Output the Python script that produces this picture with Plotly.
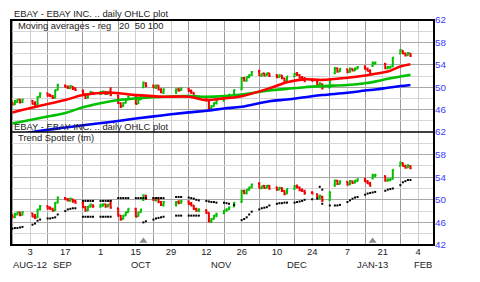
import plotly.graph_objects as go

# ---------------- data ----------------
dates = [
    "2012-08-27", "2012-08-28", "2012-08-29", "2012-08-30", "2012-08-31",
    "2012-09-04", "2012-09-05", "2012-09-06", "2012-09-07",
    "2012-09-10", "2012-09-11", "2012-09-12", "2012-09-13", "2012-09-14",
    "2012-09-17", "2012-09-18", "2012-09-19", "2012-09-20", "2012-09-21",
    "2012-09-24", "2012-09-25", "2012-09-26", "2012-09-27", "2012-09-28",
    "2012-10-01", "2012-10-02", "2012-10-03", "2012-10-04", "2012-10-05",
    "2012-10-08", "2012-10-09", "2012-10-10", "2012-10-11", "2012-10-12",
    "2012-10-15", "2012-10-16", "2012-10-17", "2012-10-18", "2012-10-19",
    "2012-10-22", "2012-10-23", "2012-10-24", "2012-10-25", "2012-10-26",
    "2012-10-31", "2012-11-01", "2012-11-02",
    "2012-11-05", "2012-11-06", "2012-11-07", "2012-11-08", "2012-11-09",
    "2012-11-12", "2012-11-13", "2012-11-14", "2012-11-15", "2012-11-16",
    "2012-11-19", "2012-11-20", "2012-11-21", "2012-11-23",
    "2012-11-26", "2012-11-27", "2012-11-28", "2012-11-29", "2012-11-30",
    "2012-12-03", "2012-12-04", "2012-12-05", "2012-12-06", "2012-12-07",
    "2012-12-10", "2012-12-11", "2012-12-12", "2012-12-13", "2012-12-14",
    "2012-12-17", "2012-12-18", "2012-12-19", "2012-12-20", "2012-12-21",
    "2012-12-24", "2012-12-26", "2012-12-27", "2012-12-28",
    "2012-12-31", "2013-01-02", "2013-01-03", "2013-01-04",
    "2013-01-07", "2013-01-08", "2013-01-09", "2013-01-10", "2013-01-11",
    "2013-01-14", "2013-01-15", "2013-01-16", "2013-01-17", "2013-01-18",
    "2013-01-22", "2013-01-23", "2013-01-24", "2013-01-25",
    "2013-01-28", "2013-01-29", "2013-01-30", "2013-01-31", "2013-02-01",
]

open_ = [
    47.3, 46.9, 47.4, 47.8, 47.3,
    47.6, 47.0, 46.9, 48.3,
    48.9, 48.7, 48.4, 48.1, 49.5,
    50.3, 50.1, 49.8, 50.1, 49.8,
    49.4, 48.7, 48.1, 48.8, 49.0,
    48.8, 48.9, 49.2, 48.8, 49.3,
    48.5, 47.2, 46.6, 47.2, 47.8,
    48.4, 47.1, 47.8, 50.0, 50.7,
    50.3, 49.9, 50.3, 49.6, 49.0,
    49.3, 49.6, 49.5,
    49.7, 49.3, 49.0, 48.4, 48.1,
    48.2, 47.7, 46.3, 46.6, 47.2,
    47.6, 48.1, 48.3, 48.8,
    49.6, 51.6, 51.1, 51.8, 52.2,
    52.9, 52.0, 52.5, 52.1, 52.5,
    52.2, 51.8, 52.1, 51.6, 51.1,
    51.9, 52.4, 52.2, 51.7, 51.5,
    51.3, 51.0, 50.4, 50.5,
    49.9, 52.5, 53.4, 52.8,
    53.2, 52.7, 53.3, 53.0, 53.3,
    53.6, 53.3, 52.9, 53.8, 54.3,
    54.2, 53.4, 53.5, 53.7,
    56.0, 56.5, 56.0, 55.7, 56.0,
]
high = [
    47.4, 47.7, 47.9, 47.9, 48.0,
    47.7, 47.5, 48.4, 49.1,
    49.0, 48.8, 48.6, 49.6, 50.6,
    50.5, 50.3, 50.4, 50.2, 50.0,
    49.6, 48.9, 48.9, 49.3, 49.2,
    49.3, 49.4, 49.3, 49.3, 50.0,
    48.6, 47.3, 47.3, 47.9, 48.5,
    48.6, 47.9, 48.4, 51.0, 50.9,
    50.5, 50.5, 50.4, 49.8, 49.8,
    49.8, 49.9, 50.0,
    49.9, 49.6, 49.1, 48.6, 48.5,
    48.3, 47.8, 46.8, 47.3, 47.7,
    48.2, 48.5, 48.8, 49.6,
    51.8, 51.8, 51.9, 52.3, 52.9,
    53.1, 52.5, 52.6, 52.6, 52.6,
    52.3, 52.3, 52.2, 51.7, 52.0,
    52.6, 52.7, 52.3, 52.0, 51.8,
    51.5, 51.1, 50.9, 50.7,
    51.5, 53.6, 53.5, 53.4,
    53.3, 53.5, 53.4, 53.5, 53.8,
    53.9, 53.5, 53.2, 54.6, 54.6,
    54.3, 53.8, 53.8, 55.4,
    56.8, 56.6, 56.2, 56.3, 56.1,
]
low = [
    46.8, 46.8, 47.2, 47.1, 47.2,
    46.9, 46.6, 46.8, 48.1,
    48.3, 48.2, 47.9, 48.0, 49.4,
    49.9, 49.7, 49.7, 49.5, 49.3,
    48.5, 47.9, 48.0, 48.6, 48.6,
    48.6, 48.8, 48.6, 48.7, 48.4,
    47.0, 46.3, 46.5, 47.1, 47.7,
    46.9, 47.0, 47.7, 49.8, 50.0,
    49.8, 49.7, 49.4, 48.9, 48.8,
    48.8, 49.2, 49.3,
    49.1, 48.8, 48.2, 47.9, 47.8,
    47.5, 46.0, 45.9, 46.5, 46.9,
    47.5, 47.9, 48.2, 48.7,
    49.5, 51.0, 51.0, 51.6, 52.0,
    52.0, 51.9, 51.9, 52.0, 51.8,
    51.6, 51.7, 51.4, 50.8, 51.0,
    51.8, 52.0, 51.5, 51.4, 50.9,
    51.0, 50.3, 50.0, 49.6,
    49.8, 52.3, 52.6, 52.7,
    52.5, 52.6, 52.8, 52.9, 53.2,
    53.1, 52.8, 52.3, 53.6, 54.0,
    53.2, 53.2, 53.3, 53.6,
    55.9, 55.9, 55.5, 55.6, 55.4,
]
close = [
    46.9, 47.5, 47.8, 47.3, 47.8,
    47.0, 46.8, 48.3, 48.9,
    48.5, 48.4, 48.1, 49.5, 50.4,
    50.1, 49.9, 50.2, 49.7, 49.5,
    48.7, 48.1, 48.8, 49.2, 48.8,
    49.1, 49.2, 48.8, 49.1, 48.6,
    47.2, 46.6, 47.2, 47.8, 48.4,
    47.0, 47.8, 48.3, 50.8, 50.2,
    50.0, 50.3, 49.6, 49.1, 49.6,
    49.6, 49.4, 49.8,
    49.3, 49.0, 48.4, 48.1, 48.3,
    47.7, 46.3, 46.6, 47.2, 47.5,
    48.1, 48.3, 48.7, 49.5,
    51.6, 51.2, 51.8, 52.2, 52.7,
    52.1, 52.4, 52.1, 52.5, 52.0,
    51.8, 52.1, 51.6, 51.0, 51.9,
    52.4, 52.2, 51.7, 51.6, 51.2,
    51.1, 50.5, 50.7, 49.9,
    51.3, 53.4, 52.8, 53.3,
    52.7, 53.3, 53.0, 53.4, 53.6,
    53.2, 52.9, 52.5, 54.3, 54.4,
    53.4, 53.6, 53.7, 55.3,
    56.6, 56.0, 55.7, 56.1, 55.6,
]

# moving averages
ma_dates = [
    "2012-08-27", "2012-09-07", "2012-09-17", "2012-09-24", "2012-10-05",
    "2012-10-15", "2012-10-26", "2012-11-05", "2012-11-12", "2012-11-19",
    "2012-11-26", "2012-12-07", "2012-12-14", "2012-12-21", "2012-12-28",
    "2013-01-07", "2013-01-14", "2013-01-18", "2013-01-23", "2013-01-28",
    "2013-02-01",
]
ma20 = [45.5, 46.7, 47.7, 48.6, 49.0, 48.6, 48.3, 48.3, 47.7, 48.0,
        48.4, 49.8, 50.9, 51.4, 51.3, 51.7, 52.1, 52.4, 52.8, 53.7, 54.1]
ma50 = [43.5, 44.5, 45.4, 46.4, 47.5, 48.0, 48.3, 48.4, 48.3, 48.4,
        48.7, 49.4, 49.7, 50.0, 50.2, 50.4, 50.7, 51.0, 51.5, 51.9, 52.2]
ma100 = [41.3, 42.2, 42.8, 43.2, 43.8, 44.4, 45.0, 45.5, 45.8, 46.2,
         46.5, 47.5, 47.8, 48.2, 48.6, 49.0, 49.4, 49.6, 49.9, 50.2, 50.4]

N = None
ts_upper = [
    N, N, N, N, N,
    N, N, N, N,
    N, N, N, N, N,
    N, N, N, N, N,
    49.8, 49.8, 49.8, 49.8, 49.8,
    49.8, 49.8, 49.8, 49.8, 49.8,
    50.3, 50.3, 50.3, 50.3, 50.3,
    50.3, 50.3, 50.3, 50.3, 50.3,
    50.3, 50.3, 50.3, 50.3, 50.3,
    50.5, 50.5, 50.5,
    50.4, 50.3, 50.2, 50.0, 49.9,
    49.8, 49.7, 49.6, 49.6, 49.5,
    49.5, 49.4, 49.3, 49.1,
    N, N, N, N, N,
    N, N, N, N, N,
    N, N, N, N, N,
    N, N, N, N, N,
    N, N, 52.3, 51.8,
    N, N, N, N,
    N, N, N, N, N,
    N, N, N, N, N,
    N, N, N, N,
    N, N, N, N, N,
]
ts_lower = [
    44.9, 45.0, 45.0, 45.1, 45.2,
    45.6, 45.8, 46.3, 46.5,
    46.7, 46.7, 46.8, 46.9, 47.4,
    48.0, 48.3, 48.4, 48.5, 48.5,
    47.0, 47.0, 47.0, 47.0, 47.0,
    47.0, 47.0, 47.0, 47.0, 47.0,
    N, N, N, N, N,
    N, N, N, 46.0, 46.2,
    46.5, 46.7, 46.8, 46.9, 47.0,
    47.2, 47.2, 47.2,
    47.2, 47.2, 47.2, 47.2, 47.2,
    N, N, N, N, N,
    N, N, N, N,
    46.4, 46.6, 46.9, 47.4, 47.9,
    48.3, 48.5, 48.6, 48.7, 49.0,
    49.3, 49.4, 49.4, 49.5, 49.5,
    49.5, 49.6, 49.7, 49.8, 50.0,
    50.1, 50.2, N, 49.3,
    49.0, 49.0, 49.0, 49.1,
    49.6, 49.9, 50.2, 50.4, 50.5,
    50.9, 51.1, 51.2, 51.3, 51.4,
    51.6, 51.8, 51.9, 52.0,
    52.6, 53.1, 53.3, 53.5, 53.5,
]

event_dates = ["2012-10-18", "2013-01-17"]
event_level = [42.7, 42.7]

day_ticks = ["2012-09-03", "2012-09-17", "2012-10-01", "2012-10-15", "2012-10-29",
             "2012-11-12", "2012-11-26", "2012-12-10", "2012-12-24", "2013-01-07",
             "2013-01-21", "2013-02-04"]
day_labels = ["3", "17", "1", "15", "29", "12", "26", "10", "24", "7", "21", "4"]
dark_grid = ["2012-08-27", "2012-09-10", "2012-09-24", "2012-10-08", "2012-10-22",
             "2012-11-05", "2012-11-19", "2012-12-03", "2012-12-17", "2012-12-31",
             "2013-01-14", "2013-01-28"]
month_pos = ["2012-09-03", "2012-09-16", "2012-10-17", "2012-11-18", "2012-12-18",
             "2013-01-17", "2013-02-06"]
month_labels = ["AUG-12", "SEP", "OCT", "NOV", "DEC", "JAN-13", "FEB"]

price_ticks_top = [46, 50, 54, 58, 62]
price_ticks_bot = [42, 46, 50, 54, 58, 62]

# ---------------- styles ----------------
FONT = "Liberation Sans"
FS = 9.4
GREEN = "#00c000"
RED = "#f00000"
BLUE_TXT = "#3a3aff"
XRANGE = ["2012-08-26 11:00", "2013-02-10 08:24"]

fig = go.Figure()

for xa, ya in (("x", "y"), ("x2", "y2")):
    fig.add_trace(go.Ohlc(
        x=dates, open=open_, high=high, low=low, close=close,
        xaxis=xa, yaxis=ya, tickwidth=0.5,
        increasing=dict(line=dict(color=GREEN, width=2)),
        decreasing=dict(line=dict(color=RED, width=2)),
        showlegend=False, hoverinfo="skip"))

for vals, col in ((ma100, "#0000ff"), (ma50, "#00c000"), (ma20, "#ff0000")):
    fig.add_trace(go.Scatter(x=ma_dates, y=vals, mode="lines",
                             line=dict(color=col, width=2.6, shape="spline"),
                             xaxis="x", yaxis="y", showlegend=False, hoverinfo="skip"))

for vals in (ts_upper, ts_lower):
    fig.add_trace(go.Scatter(x=dates, y=vals, mode="markers",
                             marker=dict(symbol="square", size=2, color="black",
                                         line=dict(width=0)),
                             xaxis="x2", yaxis="y2", showlegend=False, hoverinfo="skip"))

fig.add_trace(go.Scatter(x=event_dates, y=event_level, mode="markers",
                         marker=dict(symbol="triangle-up", size=7, color="#8c8c8c"),
                         xaxis="x2", yaxis="y2", cliponaxis=False,
                         showlegend=False, hoverinfo="skip"))

split = 113 / 225

xcommon = dict(type="date", range=XRANGE, tickvals=day_ticks, ticktext=day_labels,
               showgrid=True, gridcolor="#cfcfcf", gridwidth=1,
               minor=dict(tickvals=dark_grid, showgrid=True, gridcolor="#9c9c9c", gridwidth=1),
               showline=False, zeroline=False, ticks="",
               rangeslider=dict(visible=False), fixedrange=True)
ycommon = dict(range=[42, 62], side="right", showgrid=True, gridcolor="#a8a8a8", gridwidth=1,
               minor=dict(tick0=42, dtick=2, showgrid=True, gridcolor="#d6d6d6", gridwidth=1),
               showline=False, zeroline=False, ticks="",
               tickfont=dict(family=FONT, size=FS + 0.4, color=BLUE_TXT),
               fixedrange=True)

fig.update_layout(
    width=480, height=282,
    margin=dict(l=11, r=46, t=20, b=37, pad=0),
    paper_bgcolor="white", plot_bgcolor="white",
    font=dict(family=FONT, size=FS, color="#222222"),
    xaxis=dict(xcommon, domain=[0, 1], anchor="y", showticklabels=False),
    xaxis2=dict(xcommon, domain=[0, 1], anchor="y2", showticklabels=True,
                tickfont=dict(family=FONT, size=FS, color="#222222"), matches="x"),
    yaxis=dict(ycommon, domain=[split, 1], anchor="x", tickvals=price_ticks_top,
               ticktext=[str(v) for v in price_ticks_top]),
    yaxis2=dict(ycommon, domain=[0, split], anchor="x2", tickvals=price_ticks_bot,
                ticktext=[str(v) for v in price_ticks_bot]),
    shapes=[
        dict(type="rect", xref="paper", yref="paper", x0=0, x1=1, y0=0, y1=1,
             line=dict(color="black", width=2), layer="above"),
        dict(type="line", xref="paper", yref="paper", x0=0, x1=1, y0=split, y1=split,
             line=dict(color="black", width=1.5), layer="above"),
    ],
)

NB = "\u00a0"
texts = [
    ("EBAY - EBAY INC. .. daily OHLC plot", 0.0024, (245 - 13) / 225),
    ("Moving averages - reg" + NB * 3 + "20" + NB * 2 + "50" + NB + "100", 0.0118, (245 - 25) / 225),
    ("EBAY - EBAY INC. .. daily OHLC plot", 0.0024, (245 - 126) / 225),
    ("Trend Spotter (tm)", 0.0118, (245 - 137) / 225),
]
for t, x, y in texts:
    fig.add_annotation(text=t, x=x, y=y, xref="paper", yref="paper",
                       xanchor="left", yanchor="middle", showarrow=False,
                       font=dict(family=FONT, size=FS, color="#222222"))

for d, lab in zip(month_pos, month_labels):
    fig.add_annotation(text=lab, x=d, y=(245 - 264) / 225, xref="x2", yref="paper",
                       xanchor="center", yanchor="middle", showarrow=False,
                       font=dict(family=FONT, size=FS, color="#222222"))

fig.write_html("out.html")
